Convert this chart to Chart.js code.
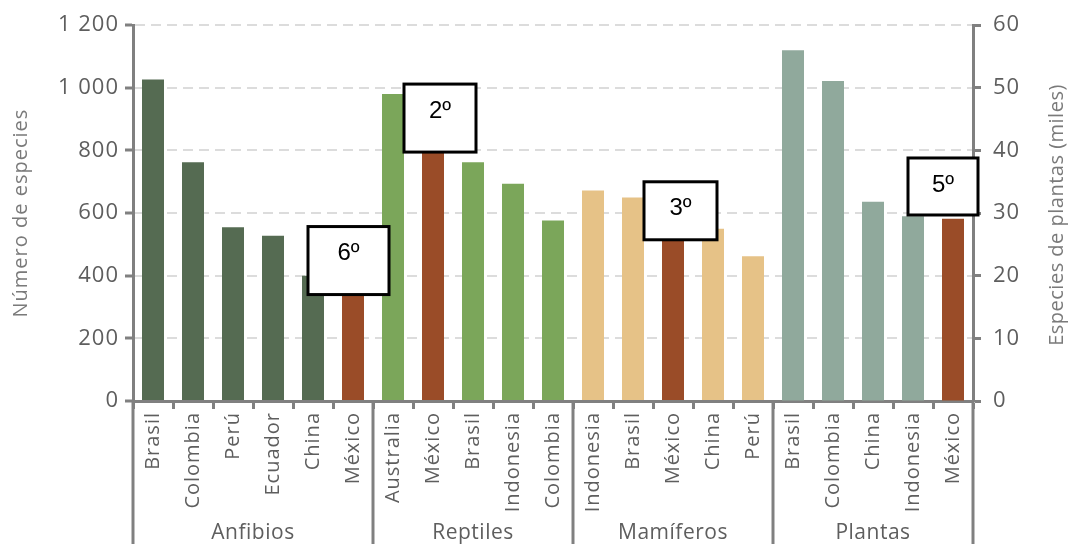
<!DOCTYPE html>
<html lang="es">
<head>
<meta charset="utf-8">
<script src="https://cdn.jsdelivr.net/npm/chart.js@4.4.1/dist/chart.umd.min.js"></script>
<style>
  html, body { margin: 0; padding: 0; background: #fff; }
  #wrap { width: 1070px; height: 544px; position: relative; }
</style>
</head>
<body>
<div id="wrap"><canvas id="speciesChart"></canvas></div>
<script>
const categories = ["Brasil", "Colombia", "Perú", "Ecuador", "China", "México",
  "Australia", "México", "Brasil", "Indonesia", "Colombia",
  "Indonesia", "Brasil", "México", "China", "Perú",
  "Brasil", "Colombia", "China", "Indonesia", "México"];
const groups = ["Anfibios", "Reptiles", "Mamíferos", "Plantas"];
const groupSizes = [6, 5, 5, 5];

// número de especies
const anfibios = [1027, 762, 555, 528, 400, 376];
const reptiles = [980, 864, 762, 694, 576];
const mamiferos = [672, 650, 535, 550, 462];
// especies de plantas (miles)
const plantas = [56.0, 51.1, 31.8, 29.5, 29.1];

const leftTicks = [0, 200, 400, 600, 800, 1000, 1200];
const rightTicks = [0, 10, 20, 30, 40, 50, 60];

// lugar de México en cada grupo
const rankLabels = ["6º", "2º", "3º", "5º"];
const rankIndex = [5, 7, 13, 20];
const rankAxis = ["y", "y", "y", "y2"];
const rankTop = [557, 1012, 700, 38.8];

const groupColors = ["#556b52", "#7ba65a", "#e6c287", "#90a99c"];
const mexicoColor = "#9a4c28";
const axisGray = "#808080";
const textGray = "#5e5e5e";
const FONT = "'Open Sans', sans-serif";

// rank box sizes / shifts (px)
const boxW = [81, 72, 73, 70];
const boxH = [68, 68, 58, 57];
const boxShift = [-4.5, 7, 7.5, -10];

const barColors = [];
groupSizes.forEach((n, g) => {
  for (let k = 0; k < n; k++) barColors.push(groupColors[g]);
});
categories.forEach((c, i) => { if (c === "México") barColors[i] = mexicoColor; });

const animalData = [...anfibios, ...reptiles, ...mamiferos, ...plantas.map(() => null)];
const plantData = [...anfibios, ...reptiles, ...mamiferos].map(() => null).concat(plantas);

const fmt = (v) => String(v).replace(/\B(?=(\d{3})+(?!\d))/g, " ");

const groupPlugin = {
  id: "groupPlugin",
  beforeDraw(chart) {
    chart.ctx.letterSpacing = "1px";
  },
  afterDraw(chart) {
    const { ctx, chartArea, scales } = chart;
    const x = scales.x;
    ctx.save();
    ctx.letterSpacing = "0.5px";
    // separators between groups
    let start = 0;
    const bounds = [0];
    groupSizes.forEach((n) => { start += n; bounds.push(start); });
    ctx.strokeStyle = axisGray;
    ctx.lineWidth = 3;
    bounds.forEach((b) => {
      const px = Math.round(x.getPixelForValue(b - 0.5));
      ctx.beginPath();
      ctx.moveTo(px, chartArea.bottom);
      ctx.lineTo(px, chart.height);
      ctx.stroke();
    });
    // group names
    ctx.fillStyle = textGray;
    ctx.font = "21px " + FONT;
    ctx.textAlign = "center";
    ctx.textBaseline = "middle";
    groups.forEach((g, i) => {
      const a = x.getPixelForValue(bounds[i] - 0.5);
      const b = x.getPixelForValue(bounds[i + 1] - 0.5);
      ctx.fillText(g, (a + b) / 2, 533);
    });
    // right axis title (reads bottom to top)
    ctx.save();
    ctx.translate(1057, 215);
    ctx.rotate(-Math.PI / 2);
    ctx.fillStyle = "#7a7a7a";
    ctx.font = "20px " + FONT;
    ctx.fillText("Especies de plantas (miles)", 0, 0);
    ctx.restore();
    // rank boxes
    ctx.letterSpacing = "0px";
    rankLabels.forEach((lab, i) => {
      const cx = x.getPixelForValue(rankIndex[i]) + boxShift[i];
      const top = scales[rankAxis[i]].getPixelForValue(rankTop[i]);
      const left = cx - boxW[i] / 2;
      ctx.fillStyle = "#fff";
      ctx.fillRect(left, top, boxW[i], boxH[i]);
      ctx.strokeStyle = "#000";
      ctx.lineWidth = 3;
      ctx.strokeRect(left, top, boxW[i], boxH[i]);
      ctx.fillStyle = "#000";
      ctx.font = "24px 'Liberation Sans', sans-serif";
      ctx.textAlign = "center";
      ctx.textBaseline = "middle";
      ctx.fillText(lab, cx, top + 27);
    });
    ctx.restore();
  }
};

new Chart(document.getElementById("speciesChart"), {
  type: "bar",
  data: {
    labels: categories,
    datasets: [
      {
        label: "Número de especies",
        data: animalData,
        backgroundColor: barColors,
        yAxisID: "y",
        grouped: false,
        barPercentage: 0.55,
        categoryPercentage: 1
      },
      {
        label: "Especies de plantas (miles)",
        data: plantData,
        backgroundColor: barColors,
        yAxisID: "y2",
        grouped: false,
        barPercentage: 0.55,
        categoryPercentage: 1
      }
    ]
  },
  options: {
    responsive: true,
    maintainAspectRatio: false,
    animation: false,
    layout: { padding: { top: 24, left: 0, right: 0, bottom: 0 } },
    plugins: { legend: { display: false }, tooltip: { enabled: false } },
    scales: {
      x: {
        afterFit: (s) => { s.height = 143; },
        grid: {
          offset: true,
          drawOnChartArea: false,
          tickLength: 8,
          tickWidth: 3,
          tickColor: axisGray
        },
        border: { color: axisGray, width: 3 },
        ticks: {
          autoSkip: false,
          minRotation: 90,
          maxRotation: 90,
          padding: 3,
          color: textGray,
          font: { family: FONT, size: 20 }
        }
      },
      y: {
        position: "left",
        min: 0,
        max: 1200,
        afterFit: (s) => { s.width = 133; },
        afterBuildTicks: (s) => { s.ticks = leftTicks.map((v) => ({ value: v })); },
        ticks: {
          padding: 6,
          color: textGray,
          font: { family: FONT, size: 22 },
          callback: (v) => fmt(v)
        },
        grid: {
          color: "#dcdcdc",
          lineWidth: 2,
          tickLength: 8,
          tickWidth: 3,
          tickColor: axisGray
        },
        border: { color: axisGray, width: 3, dash: [10, 6] },
        title: {
          display: true,
          text: "Número de especies",
          color: "#7a7a7a",
          font: { family: FONT, size: 20 },
          padding: { top: 9, bottom: 0 }
        }
      },
      y2: {
        position: "right",
        min: 0,
        max: 60,
        afterFit: (s) => { s.width = 97; },
        afterBuildTicks: (s) => { s.ticks = rightTicks.map((v) => ({ value: v })); },
        ticks: {
          padding: 12,
          color: textGray,
          font: { family: FONT, size: 22 }
        },
        grid: {
          drawOnChartArea: false,
          tickLength: 8,
          tickWidth: 3,
          tickColor: axisGray
        },
        border: { color: axisGray, width: 3 }
      }
    }
  },
  plugins: [groupPlugin]
});
</script>
</body>
</html>
